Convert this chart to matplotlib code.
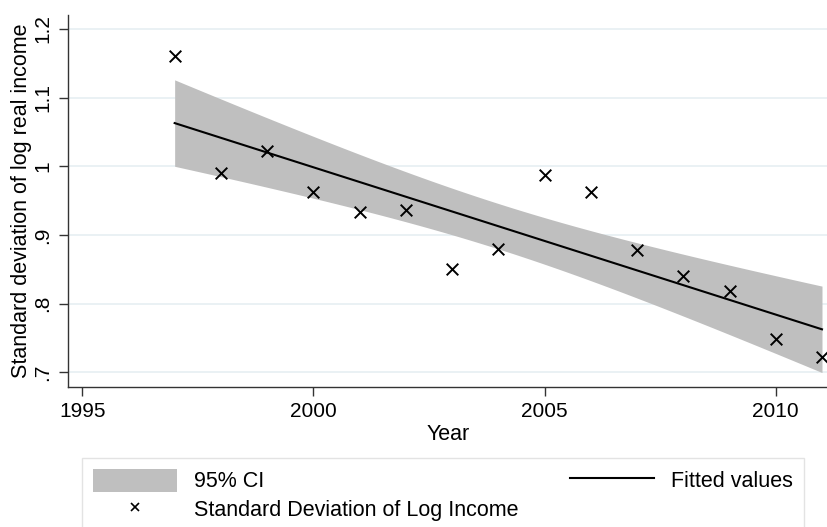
import matplotlib
matplotlib.use("Agg")
import matplotlib.pyplot as plt
import numpy as np
from matplotlib.patches import Patch
from matplotlib.lines import Line2D

plt.rcParams['font.family'] = ['Liberation Sans', 'DejaVu Sans']

# Dispersion of log real income by year
years = np.array([1997, 1998, 1999, 2000, 2001, 2002, 2003, 2004,
                  2005, 2006, 2007, 2008, 2009, 2010, 2011])
sd_log_income = np.array([1.161, 0.991, 1.022, 0.963, 0.933, 0.936, 0.850, 0.880,
                          0.987, 0.962, 0.878, 0.840, 0.819, 0.748, 0.723])

x_ticks = [1995, 2000, 2005, 2010]
y_ticks = [0.7, 0.8, 0.9, 1.0, 1.1, 1.2]
y_tick_labels = ['.7', '.8', '.9', '1', '1.1', '1.2']

# Linear fit with 95% confidence band (like Stata lfitci)
n = len(years)
slope, intercept = np.polyfit(years, sd_log_income, 1)
resid = sd_log_income - (intercept + slope * years)
s = np.sqrt(np.sum(resid ** 2) / (n - 2))
t_crit = 2.160  # t(0.975, 13 df)
xx = np.linspace(years.min(), years.max(), 200)
yy = intercept + slope * xx
se = s * np.sqrt(1.0 / n + (xx - years.mean()) ** 2 / np.sum((years - years.mean()) ** 2))
lo, hi = yy - t_crit * se, yy + t_crit * se

fig = plt.figure(figsize=(8.28, 5.27), dpi=100)
ax = fig.add_axes([0.0825, 0.265, 0.9175, 0.7065])

band_color = '#bfbfbf'
ax.fill_between(xx, lo, hi, color=band_color, linewidth=0, zorder=2)
ax.plot(xx, yy, color='black', linewidth=1.5, zorder=3)
ax.scatter(years, sd_log_income, marker='x', s=70, color='black', linewidths=1.4, zorder=4)

ax.set_xlim(1994.70, 2011.13)
ax.set_ylim(0.6782, 1.2204)
ax.set_xticks(x_ticks)
ax.set_yticks(y_ticks)
ax.set_yticklabels(y_tick_labels, rotation=90, va='center')
ax.tick_params(axis='both', labelsize=15, length=6.5, width=1, color='#333333')
ax.tick_params(axis='y', pad=5)
ax.tick_params(axis='x', pad=4)

ax.grid(axis='y', color='#e6eff2', linewidth=1.2, zorder=0)
ax.set_axisbelow(True)
for side in ['top', 'right']:
    ax.spines[side].set_visible(False)
for side in ['left', 'bottom']:
    ax.spines[side].set_color('#333333')
    ax.spines[side].set_linewidth(1)

ax.set_xlabel('Year', fontsize=15.5, labelpad=2)
ax.set_ylabel('Standard deviation of log real income', fontsize=15.5, labelpad=1)

handles = [
    Patch(facecolor=band_color, edgecolor='none'),
    Line2D([], [], linestyle='none', marker='x', color='black', markersize=6, markeredgewidth=1.2),
    Line2D([], [], color='black', linewidth=1.5),
    Line2D([], [], linestyle='none'),
]
labels = ['95% CI', 'Standard Deviation of Log Income', 'Fitted values', '']
leg = fig.legend(handles, labels, loc='upper left', bbox_to_anchor=(82 / 828, 1 - 458 / 527),
                 ncol=2, fontsize=15.5, frameon=True, fancybox=False, borderpad=0.5,
                 borderaxespad=0, handlelength=3.9, handleheight=1.25, handletextpad=0.8,
                 columnspacing=2.4, labelspacing=0.25)
leg.get_frame().set_edgecolor('#dddddd')
leg.get_frame().set_linewidth(1)

fig.savefig('out.png', dpi=100)
